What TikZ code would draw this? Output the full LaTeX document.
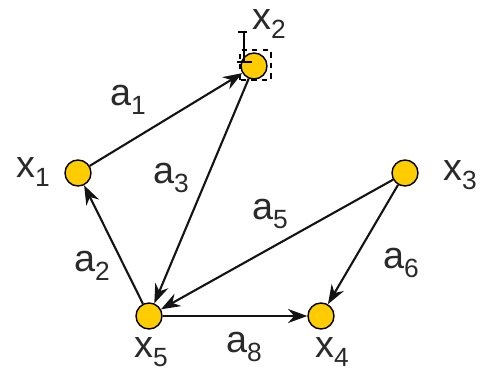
\documentclass[tikz,border=0pt]{standalone}
\usepackage{fontspec}
\setmainfont{Liberation Sans}
\usetikzlibrary{arrows.meta}
\definecolor{vertexfill}{HTML}{FFCC00}
\definecolor{edgecol}{HTML}{141414}
\definecolor{labelcol}{HTML}{2A2A2A}
\newcommand{\idx}[2]{#1\raisebox{-0.45ex}{\fontsize{15}{15}\selectfont #2}}

\begin{document}
\begin{tikzpicture}[font=\fontsize{21.5}{24}\selectfont,
    vertex/.style={circle,draw=black,fill=vertexfill,line width=0.8pt,minimum size=0.52cm,inner sep=0pt},
    edge/.style={-{Stealth[length=11pt,width=8pt]},line width=1.2pt,draw=edgecol},
    lbl/.style={text=labelcol,inner sep=0pt}]
    \useasboundingbox (0,0) rectangle (9.7,7.58);
    % vertices
    \node[vertex] (x1) at (1.56,4.12) {};
    \node[vertex] (x2) at (5.08,6.26) {};
    \node[vertex] (x3) at (8.10,4.12) {};
    \node[vertex] (x4) at (6.42,1.26) {};
    \node[vertex] (x5) at (2.98,1.26) {};
    % selection marks on x2
    \draw[dashed,line width=0.8pt] (4.80,5.98) rectangle (5.42,6.58);
    \draw[line width=0.9pt] (4.76,6.94) -- (4.94,6.94) (4.88,6.94) -- (4.88,6.34) (4.74,6.34) -- (5.04,6.34);
    % vertex labels
    \node[lbl] (lx1) at (0.66,4.14) {\idx{x}{1}};
    \node[lbl] (lx2) at (5.38,7.10) {\idx{x}{2}};
    \node[lbl] (lx3) at (9.20,4.08) {\idx{x}{3}};
    \node[lbl] (lx4) at (6.64,0.54) {\idx{x}{4}};
    \node[lbl] (lx5) at (3.02,0.54) {\idx{x}{5}};
    % edges
    \draw[edge] (x1) -- (x2);
    \draw[edge] (x2) -- (x5);
    \draw[edge] (x5) -- (x1);
    \draw[edge] (x3) -- (x5);
    \draw[edge] (x3) -- (x4);
    \draw[edge] (x5) -- (x4);
    % edge labels
    \node[lbl] (la1) at (2.56,5.58) {\idx{a}{1}};
    \node[lbl] (la2) at (1.84,2.26) {\idx{a}{2}};
    \node[lbl] (la3) at (3.42,4.02) {\idx{a}{3}};
    \node[lbl] (la5) at (5.40,3.30) {\idx{a}{5}};
    \node[lbl] (la6) at (8.02,2.32) {\idx{a}{6}};
    \node[lbl] (la8) at (4.88,0.64) {\idx{a}{8}};
\end{tikzpicture}
\end{document}
